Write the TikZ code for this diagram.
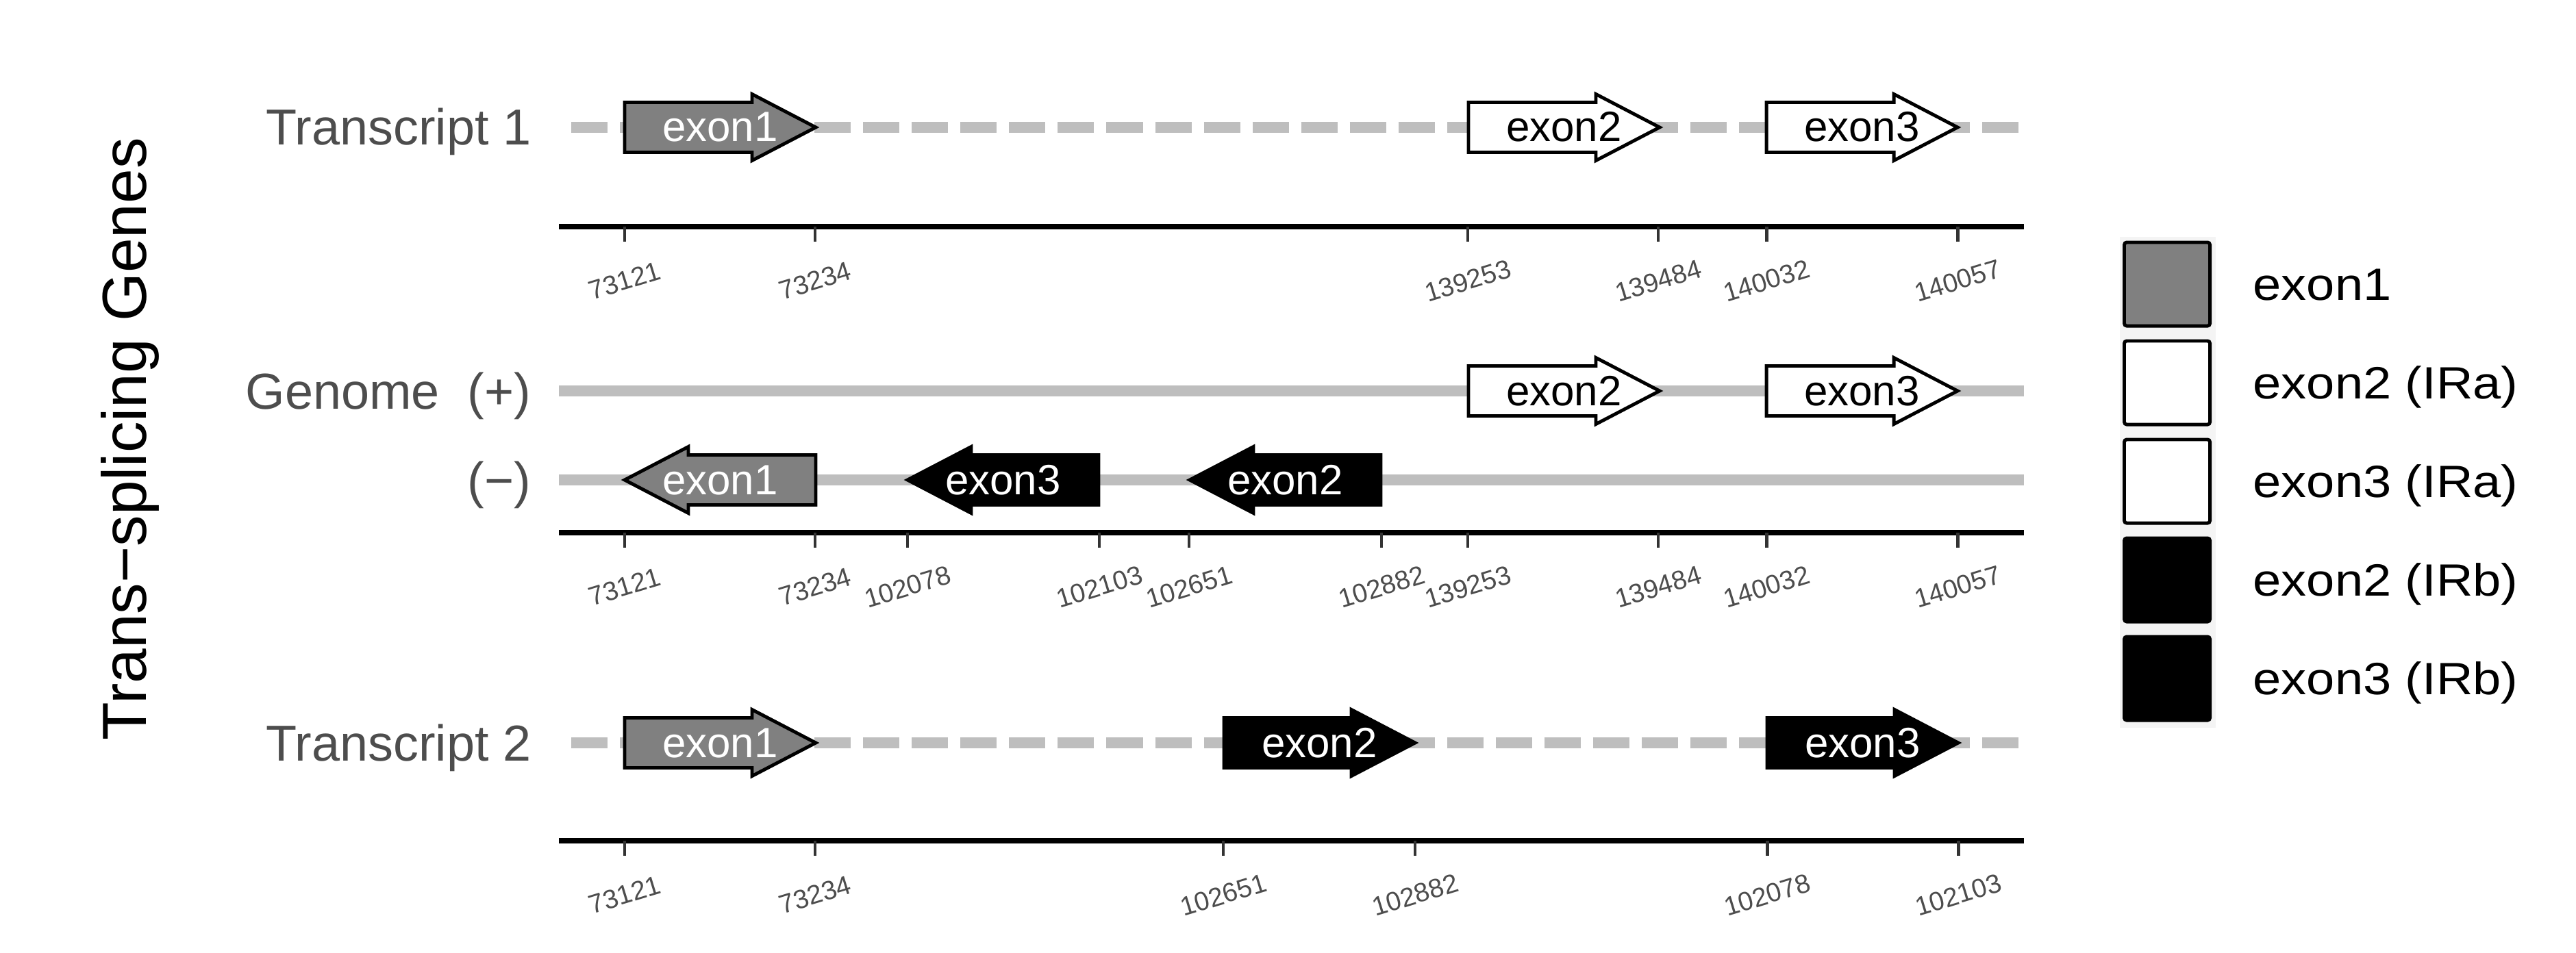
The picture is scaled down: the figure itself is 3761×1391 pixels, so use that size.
\documentclass[tikz,border=0pt]{standalone}
\usepackage{fontspec}
\setmainfont{Liberation Sans}
\newfontfamily\legfont[FakeStretch=1.12]{Liberation Sans}
\usetikzlibrary{positioning}
\definecolor{tsLine}{HTML}{BEBEBE}
\definecolor{tsExon}{HTML}{808080}
\definecolor{tsText}{HTML}{4D4D4D}
\definecolor{tsKeyBg}{HTML}{F4F4F4}

% forward / reverse exon arrow: name, left x, track y, fill, text colour, label
\newcommand{\fwdexon}[6]{%
  \draw[exon, fill=#4] (#2,#3-36.5) -- ++(186,0) -- ++(0,-12) -- (#2+279,#3)
    -- (#2+186,#3+48.5) -- ++(0,-12) -- (#2,#3+36.5) -- cycle;
  \node[exonlbl, text=#5] (#1) at (#2+139.5,#3+21) {#6};}
\newcommand{\revexon}[6]{%
  \draw[exon, fill=#4] (#2,#3) -- (#2+93,#3-48.5) -- ++(0,12) -- (#2+279,#3-36.5)
    -- ++(0,73) -- (#2+93,#3+36.5) -- ++(0,12) -- cycle;
  \node[exonlbl, text=#5] (#1) at (#2+139.5,#3+21) {#6};}

\begin{document}
\begin{tikzpicture}[x=0.01cm,y=-0.01cm,
    track/.style={tsLine, line width=4.6pt},
    dashtrack/.style={track, dash pattern=on 0.53cm off 0.18cm, dash phase=0.53cm},
    exon/.style={draw=black, line width=1.4pt, line join=miter},
    exonlbl/.style={anchor=base, inner sep=0, font=\fontsize{17.6}{20}\selectfont},
    rowlbl/.style={anchor=base east, inner sep=0, text=tsText, font=\fontsize{21}{24}\selectfont},
    axisline/.style={black, line width=2pt},
    tickmark/.style={black!80, line width=1.4pt},
    ticklbl/.style={rotate=17, inner sep=0, text=tsText, font=\fontsize{11}{13}\selectfont},
    key/.style={draw=black, line width=1.4pt, rounded corners=1pt, minimum width=1.25cm,
                minimum height=1.22cm, inner sep=0},
    legtxt/.style={anchor=base west, inner sep=0, font=\legfont\fontsize{18.8}{22}\selectfont}]
    \useasboundingbox (0,0) rectangle (3761,1391);

    % y title and row labels
    \node[rotate=90, anchor=base, font=\fontsize{25.9}{30}\selectfont] (ytitle) at (213,641) {Trans−splicing Genes};
    \node[rowlbl] (tr1)    at (776,212)  {Transcript 1};
    \node[rowlbl] (gplus)  at (776,597)  {Genome\ \ (+)};
    \node[rowlbl] (gminus) at (776,727)  {(−)};
    \node[rowlbl] (tr2)    at (776,1111) {Transcript 2};

    % tracks
    \draw[dashtrack] (816,186) -- (2955,186);
    \draw[track] (816,571) -- (2955,571);
    \draw[track] (816,701) -- (2955,701);
    \draw[dashtrack] (816,1085) -- (2955,1085);

    % exons
    \fwdexon{t1e1}{912}{186}{tsExon}{white}{exon1}
    \fwdexon{t1e2}{2144}{186}{white}{black}{exon2}
    \fwdexon{t1e3}{2579}{186}{white}{black}{exon3}
    \fwdexon{gpe2}{2144}{571}{white}{black}{exon2}
    \fwdexon{gpe3}{2579}{571}{white}{black}{exon3}
    \revexon{gme1}{912}{701}{tsExon}{white}{exon1}
    \revexon{gme3}{1325}{701}{black}{white}{exon3}
    \revexon{gme2}{1737}{701}{black}{white}{exon2}
    \fwdexon{t2e1}{912}{1085}{tsExon}{white}{exon1}
    \fwdexon{t2e2}{1787}{1085}{black}{white}{exon2}
    \fwdexon{t2e3}{2580}{1085}{black}{white}{exon3}

    % axes
    \draw[axisline] (816,331) -- (2955,331);
    \draw[axisline] (816,778) -- (2955,778);
    \draw[axisline] (816,1228) -- (2955,1228);
    \foreach \x/\t in {912/73121,1190/73234,2143/139253,2421/139484,2579/140032,2858/140057}{
      \draw[tickmark] (\x,331) -- (\x,353);
      \node[ticklbl] (ta\t) at (\x,410) {\t};}
    \foreach \x/\t in {912/73121,1190/73234,1325/102078,1605/102103,1736/102651,
                       2017/102882,2143/139253,2421/139484,2579/140032,2858/140057}{
      \draw[tickmark] (\x,778) -- (\x,800);
      \node[ticklbl] (tb\t) at (\x,857) {\t};}
    \foreach \x/\t in {912/73121,1190/73234,1786/102651,2066/102882,2580/102078,2859/102103}{
      \draw[tickmark] (\x,1228) -- (\x,1250);
      \node[ticklbl] (tc\t) at (\x,1307) {\t};}

    % legend
    \fill[tsKeyBg] (3095,346) rectangle (3235,1063);
    \foreach \i/\f/\l in {1/tsExon/exon1, 2/white/exon2 (IRa), 3/white/exon3 (IRa),
                          4/black/exon2 (IRb), 5/black/exon3 (IRb)}{
      \node[key, fill=\f] (key\i) at (3164,{415+144*(\i-1)}) {};
      \path (key\i.east) ++(60,23) node[legtxt] (lab\i) {\l};}
\end{tikzpicture}
\end{document}
